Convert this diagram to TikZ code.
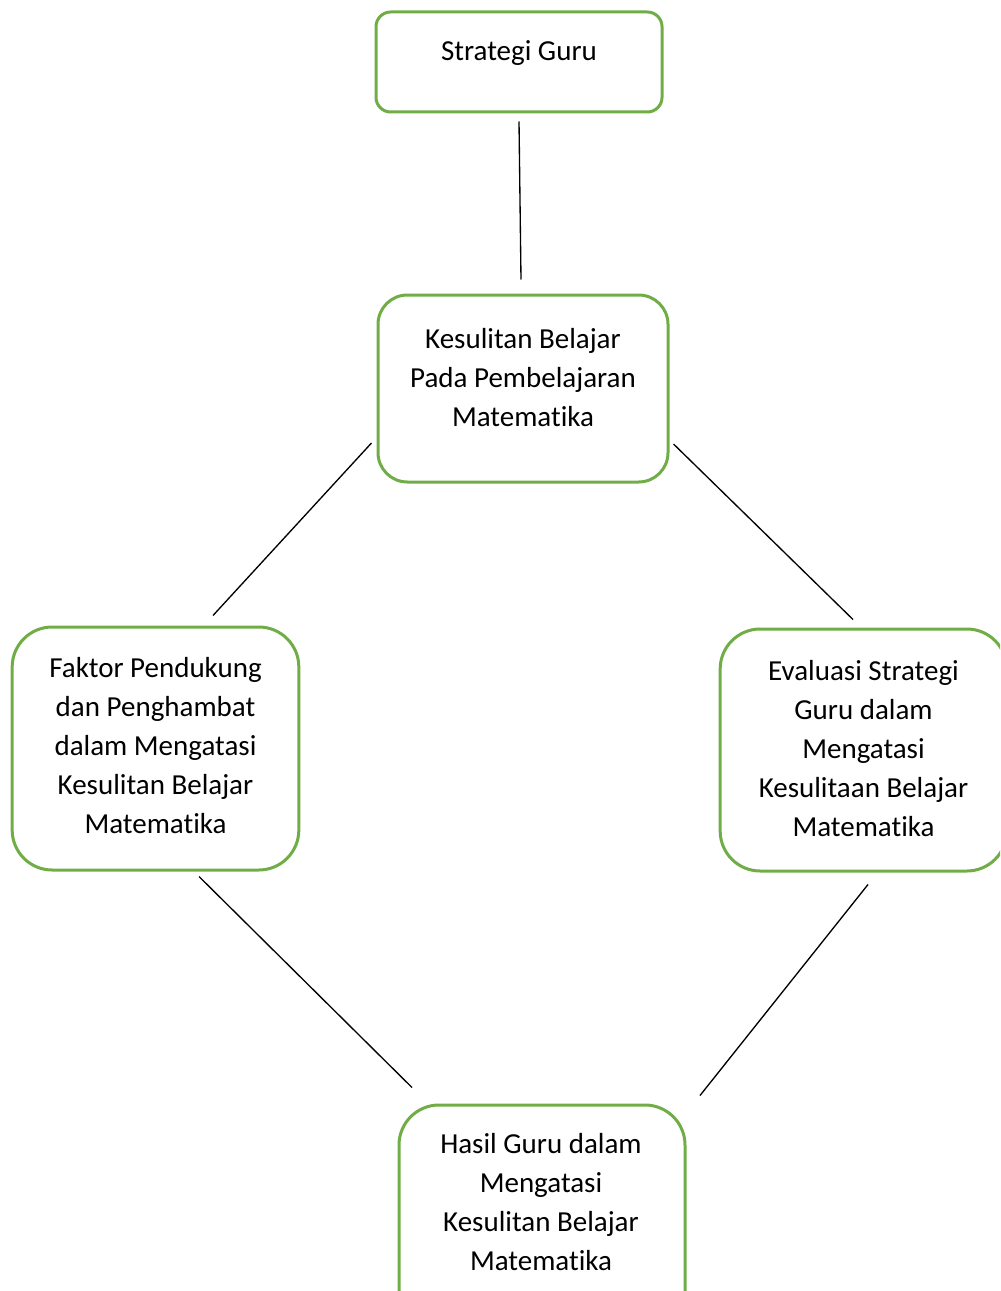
\documentclass[tikz,border=0pt]{standalone}
\usepackage{fontspec}
\setmainfont{Carlito}[Ligatures=NoCommon]
\usepackage{tikz}
\usetikzlibrary{calc}
\definecolor{boxgreen}{RGB}{112,173,71}
\tikzset{every picture/.style={line width=0.75pt}}
\tikzset{
	kotak/.style={draw=boxgreen, line width=2.25pt, inner sep=0pt, minimum width=#1},
	kotak/.default=215pt,
	teks/.style={align=center, inner sep=0pt, font=\fontsize{21.75}{29.25}\selectfont},
	garis/.style={line width=1pt}
}

\begin{document}
\begin{tikzpicture}[x=0.75pt,y=0.75pt,yscale=-1,xscale=1]
	\clip (0,0) rectangle (1000,1291); %set diagram size 1000 x 1291
	
	%Shape: Rounded Rect [id:guru] 
	\node [kotak=214.5pt, minimum height=75pt, rounded corners=11pt] (guru) at (519,62) {};
	%Shape: Rounded Rect [id:kesulitan] 
	\node [kotak=217.5pt, minimum height=140.25pt, rounded corners=22pt] (kes) at (523,388.5) {};
	%Shape: Rounded Rect [id:faktor] 
	\node [kotak, minimum height=182.25pt, rounded corners=30pt] (faktor) at (155.5,748.5) {};
	%Shape: Rounded Rect [id:evaluasi] 
	\node [kotak, minimum height=181.5pt, rounded corners=30pt] (eval) at (863.5,750) {};
	%Shape: Rounded Rect [id:hasil] 
	\node [kotak=214.5pt, minimum height=182.25pt, rounded corners=30pt] (hasil) at (542,1226.5) {};
	
	%Straight Lines [id:guru-kes] 
	\draw [garis] ($(guru.south)+(0,8)$) -- ($(kes.north)+(-2,-14)$) ;
	%Straight Lines [id:kes-faktor] 
	\draw [garis] ($(kes.west)+(-5,54.5)$) -- ($(faktor.north)+(57.5,-10)$) ;
	%Straight Lines [id:kes-eval] 
	\draw [garis] ($(kes.east)+(4,55.5)$) -- ($(eval.north)+(-10.5,-8)$) ;
	%Straight Lines [id:faktor-hasil] 
	\draw [garis] ($(faktor.south)+(43.5,5)$) -- ($(hasil.north)+(-130,-16)$) ;
	%Straight Lines [id:eval-hasil] 
	\draw [garis] ($(eval.south)+(4.5,12)$) -- ($(hasil.north)+(158,-8)$) ;
	
	% Text Node
	\node [teks] (tguru) at (519,53) {Strategi Guru};
	% Text Node
	\node [teks] (tkes) at (523,377.5) {Kesulitan Belajar\\Pada Pembelajaran\\Matematika};
	% Text Node
	\node [teks] (tfaktor) at (155.5,746) {Faktor Pendukung\\dan Penghambat\\dalam Mengatasi\\Kesulitan Belajar\\Matematika};
	% Text Node
	\node [teks] (teval) at (863.5,748.5) {Evaluasi Strategi\\Guru dalam\\Mengatasi\\Kesulitaan Belajar\\Matematika};
	% Text Node
	\node [teks] (thasil) at (541,1202) {Hasil Guru dalam\\Mengatasi\\Kesulitan Belajar\\Matematika};
	
\end{tikzpicture}
\end{document}
